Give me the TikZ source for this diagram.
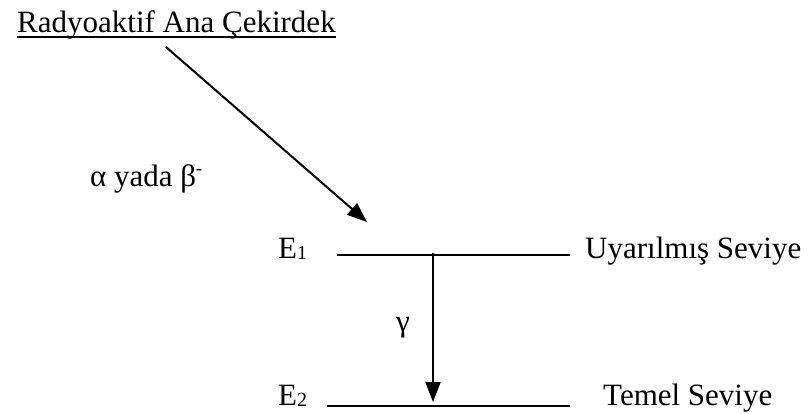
\documentclass[tikz,border=0pt]{standalone}
\usepackage{fontspec}
\setmainfont{Liberation Serif}
\usetikzlibrary{arrows.meta,calc}
\tikzset{
  lbl/.style={anchor=base west, inner sep=0pt, font=\fontsize{31}{37}\selectfont},
  lvl/.style={line width=1.6pt},
  trans/.style={line width=2pt, -{Triangle[length=20pt,width=15pt]}},
}
\begin{document}
\begin{tikzpicture}[x=1pt,y=-1pt]
\useasboundingbox (0,0) rectangle (808,413);
\node[lbl] (title) at (17,32) {Radyoaktif Ana Çekirdek};
\draw[line width=1.6pt] ($(title.base west)+(0,5)$) -- ($(title.base east)+(0,5)$);
\node[lbl] (ab) at (90,186) {α yada β\raisebox{12pt}{\fontsize{18}{20}\selectfont -}};
\node[lbl] (e1) at (278,258) {E\raisebox{-1pt}{\fontsize{20}{24}\selectfont 1}};
\node[lbl] (e2) at (278,405) {E\raisebox{-1pt}{\fontsize{20}{24}\selectfont 2}};
\coordinate (l1a) at (337,255);
\coordinate (l1b) at (570,255);
\coordinate (l2a) at (327,406);
\coordinate (l2b) at (570,406);
\draw[lvl] (l1a) -- (l1b);
\draw[lvl] (l2a) -- (l2b);
\node[lbl] (up) at (585,258) {Uyarılmış Seviye};
\node[lbl] (tem) at (603,405) {Temel Seviye};
\node[lbl] (g) at (396,331) {γ};
\coordinate (a0) at (166,47);
\coordinate (a1) at (367,222);
\draw[trans] (a0) -- (a1);
\coordinate (g0) at (433,253);
\coordinate (g1) at (433,402);
\draw[trans] (g0) -- (g1);
\end{tikzpicture}
\end{document}
